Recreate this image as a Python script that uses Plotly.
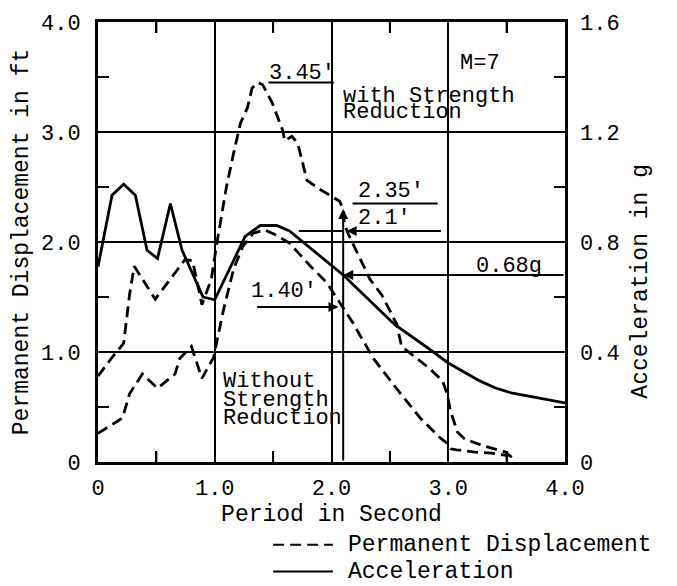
import plotly.graph_objects as go

# ---- data ----
period_sr = [0.0, 0.12, 0.22, 0.27, 0.31, 0.49, 0.745, 0.81, 0.89, 0.97, 1.02, 1.05, 1.10,
             1.16, 1.22, 1.28, 1.32, 1.37, 1.41, 1.49, 1.58, 1.60, 1.66, 1.71, 1.79, 1.90,
             2.01, 2.07, 2.10, 2.11, 2.14, 2.18, 2.33, 2.43, 2.56, 2.60, 2.73, 2.84, 2.95,
             2.99, 3.02, 3.08, 3.14, 3.29, 3.49, 3.57]
disp_sr = [0.78, 0.95, 1.08, 1.52, 1.78, 1.48, 1.84, 1.83, 1.43, 1.66, 2.00, 2.20, 2.50,
           2.80, 3.08, 3.22, 3.40, 3.45, 3.43, 3.27, 3.02, 2.92, 2.96, 2.90, 2.56, 2.48,
           2.41, 2.37, 2.30, 2.17, 2.08, 1.99, 1.66, 1.52, 1.25, 1.05, 0.94, 0.85, 0.74,
           0.62, 0.46, 0.27, 0.21, 0.15, 0.09, 0.02]

period_nsr = [0.0, 0.21, 0.27, 0.38, 0.51, 0.66, 0.70, 0.80, 0.89, 0.99, 1.07, 1.16, 1.24,
              1.33, 1.43, 1.53, 1.64, 1.82, 1.96, 2.05, 2.18, 2.36, 2.57, 2.76, 2.93, 2.99,
              3.02, 3.07, 3.23, 3.37, 3.50]
disp_nsr = [0.26, 0.40, 0.62, 0.80, 0.67, 0.80, 0.94, 1.05, 0.76, 0.95, 1.36, 1.75, 1.96,
            2.08, 2.11, 2.06, 1.99, 1.78, 1.63, 1.48, 1.27, 0.94, 0.65, 0.40, 0.22, 0.17,
            0.12, 0.11, 0.09, 0.08, 0.06]

period_acc = [0.0, 0.12, 0.22, 0.32, 0.42, 0.51, 0.62, 0.72, 0.90, 1.0, 1.26, 1.39, 1.53,
              1.64, 2.10, 2.54, 2.84, 3.0, 3.27, 3.40, 3.55, 4.0]
acc_g = [0.71, 0.97, 1.01, 0.97, 0.77, 0.74, 0.94, 0.77, 0.60, 0.59, 0.82, 0.86, 0.86,
         0.84, 0.68, 0.50, 0.41, 0.36, 0.295, 0.27, 0.25, 0.215]

x_ticks = [0, 1, 2, 3, 4]
x_labels = ["0", "1.0", "2.0", "3.0", "4.0"]
yl_ticks = [0, 1, 2, 3, 4]
yl_labels = ["0", "1.0", "2.0", "3.0", "4.0"]
yr_ticks = [0, 0.4, 0.8, 1.2, 1.6]
yr_labels = ["0", "0.4", "0.8", "1.2", "1.6"]

FONT = "Liberation Mono"
TXT = dict(family=FONT, size=22, color="black")
BIG = dict(family=FONT, size=23, color="black")
DASH = "11px,6px"

W, H = 677, 586
ML, MR, MT, MB = 98, 112, 16, 124
PW, PH = W - ML - MR, H - MT - MB   # plot-area size in px
TICK_PX = 11


def tick_setup(vals, labels):
    alias = {f"{v:.1f}": lab for v, lab in zip(vals, labels) if f"{v:.1f}" != lab}
    return dict(tickmode="linear", tick0=vals[0], dtick=vals[1] - vals[0],
                tickformat=".1f", labelalias=alias)


fig = go.Figure()
fig.add_trace(go.Scatter(x=period_sr, y=disp_sr, mode="lines", name="Permanent Displacement",
                         line=dict(color="black", width=2.8, dash=DASH), showlegend=False))
fig.add_trace(go.Scatter(x=period_nsr, y=disp_nsr, mode="lines", name="Permanent Displacement",
                         line=dict(color="black", width=2.8, dash=DASH), showlegend=False))
fig.add_trace(go.Scatter(x=period_acc, y=acc_g, mode="lines", name="Acceleration", yaxis="y2",
                         line=dict(color="black", width=2.8), showlegend=False))

axis_common = dict(showline=True, linecolor="black", linewidth=3, mirror="allticks",
                   showgrid=True, gridcolor="black", gridwidth=2, zeroline=False,
                   ticks="inside", ticklen=TICK_PX, tickwidth=2, tickcolor="black",
                   tickfont=TXT)
minor = dict(dtick=0.5, ticks="inside", ticklen=TICK_PX, tickwidth=2, tickcolor="black")

fig.update_layout(
    width=W, height=H,
    margin=dict(l=ML, r=MR, t=MT, b=MB),
    paper_bgcolor="white", plot_bgcolor="white",
    showlegend=False,
    xaxis=dict(range=[0, 4], minor=minor,
               title=dict(text="Period in Second", font=BIG, standoff=4),
               ticklabelstandoff=4, **tick_setup(x_ticks, x_labels), **axis_common),
    yaxis=dict(range=[0, 4], minor=minor,
               title=dict(text="Permanent Displacement in ft", font=BIG, standoff=6),
               ticklabelstandoff=10, **tick_setup(yl_ticks, yl_labels), **axis_common),
    yaxis2=dict(range=[0, 1.6], overlaying="y", side="right",
                showgrid=False, showline=False, zeroline=False,
                ticks="", tickfont=TXT, ticklabelstandoff=14,
                **tick_setup(yr_ticks, yr_labels)),
)

# inward half-step tick marks on all four frame sides (midpoints of the major ticks)
half_x = [(a + b) / 2 for a, b in zip(x_ticks[:-1], x_ticks[1:])]
half_y = [(a + b) / 2 for a, b in zip(yl_ticks[:-1], yl_ticks[1:])]
tick_line = dict(color="black", width=2)
fy = TICK_PX / PH
fx = TICK_PX / PW
for v in half_x:
    fig.add_shape(type="line", xref="x", yref="paper", x0=v, x1=v, y0=0, y1=fy,
                  line=tick_line, layer="above")
    fig.add_shape(type="line", xref="x", yref="paper", x0=v, x1=v, y0=1, y1=1 - fy,
                  line=tick_line, layer="above")
for v in half_y:
    fig.add_shape(type="line", xref="paper", yref="y", y0=v, y1=v, x0=0, x1=fx,
                  line=tick_line, layer="above")
    fig.add_shape(type="line", xref="paper", yref="y", y0=v, y1=v, x0=1, x1=1 - fx,
                  line=tick_line, layer="above")

# leader lines
shapes = [
    dict(type="line", xref="x", yref="y", x0=1.46, x1=2.02, y0=3.45, y1=3.45),
    dict(type="line", xref="x", yref="y", x0=2.18, x1=2.91, y0=2.35, y1=2.35),
    dict(type="line", xref="x", yref="y", x0=1.72, x1=2.10, y0=2.10, y1=2.10),
    # manual legend samples
    dict(type="line", xref="paper", yref="paper", x0=0.375, x1=0.503, y0=-0.188, y1=-0.188,
         line=dict(dash=DASH)),
    dict(type="line", xref="paper", yref="paper", x0=0.375, x1=0.503, y0=-0.249, y1=-0.249),
]
for s in shapes:
    ln = s.get("line", {})
    ln.setdefault("color", "black")
    ln.setdefault("width", 2)
    s["line"] = ln
    fig.add_shape(**s)


def txt(x, y, t, xref="x", yref="y", xanchor="left", font=TXT):
    fig.add_annotation(x=x, y=y, xref=xref, yref=yref, text=t, showarrow=False,
                       xanchor=xanchor, yanchor="middle", font=font)


def block(x, y, lines, spacing_px):
    # multi-line block: small base size sets the (tight) line spacing, spans set glyph size
    base = spacing_px / 1.3
    t = "<br>".join('<span style="font-size:22px">%s</span>' % s for s in lines)
    fig.add_annotation(x=x, y=y, xref="x", yref="y", text=t, showarrow=False,
                       xanchor="left", yanchor="middle", align="left",
                       font=dict(family=FONT, size=base, color="black"))


txt(1.45, 3.535, "3.45'")
block(2.08, 3.25, ["with Strength", "Reduction"], 16)
txt(3.08, 3.62, "M=7")
txt(2.21, 2.46, "2.35'")
txt(2.21, 2.21, "2.1'")
txt(3.22, 1.78, "0.68g")
txt(1.29, 1.55, "1.40'")
block(1.05, 0.565, ["Without", "Strength", "Reduction"], 18.5)
# manual legend text
txt(0.532, -0.188, "Permanent Displacement", xref="paper", yref="paper", font=BIG)
txt(0.532, -0.249, "Acceleration", xref="paper", yref="paper", font=BIG)
# right axis title
fig.add_annotation(x=1.195, y=0.41, xref="paper", yref="paper", text="Acceleration in g",
                   textangle=-90, showarrow=False, font=BIG)


def arrow(x, y, ax, ay, yref="y"):
    fig.add_annotation(x=x, y=y, ax=ax, ay=ay, xref="x", yref=yref, axref="x", ayref=yref,
                       text="", showarrow=True, arrowhead=2, arrowsize=1, arrowwidth=2,
                       arrowcolor="black")


arrow(2.10, 0.68, 4.0, 0.68, yref="y2")
arrow(2.06, 1.41, 1.35, 1.41)
arrow(2.13, 2.10, 2.95, 2.10)
arrow(2.10, 2.30, 2.10, 0.0)

fig.write_html("out.html")
